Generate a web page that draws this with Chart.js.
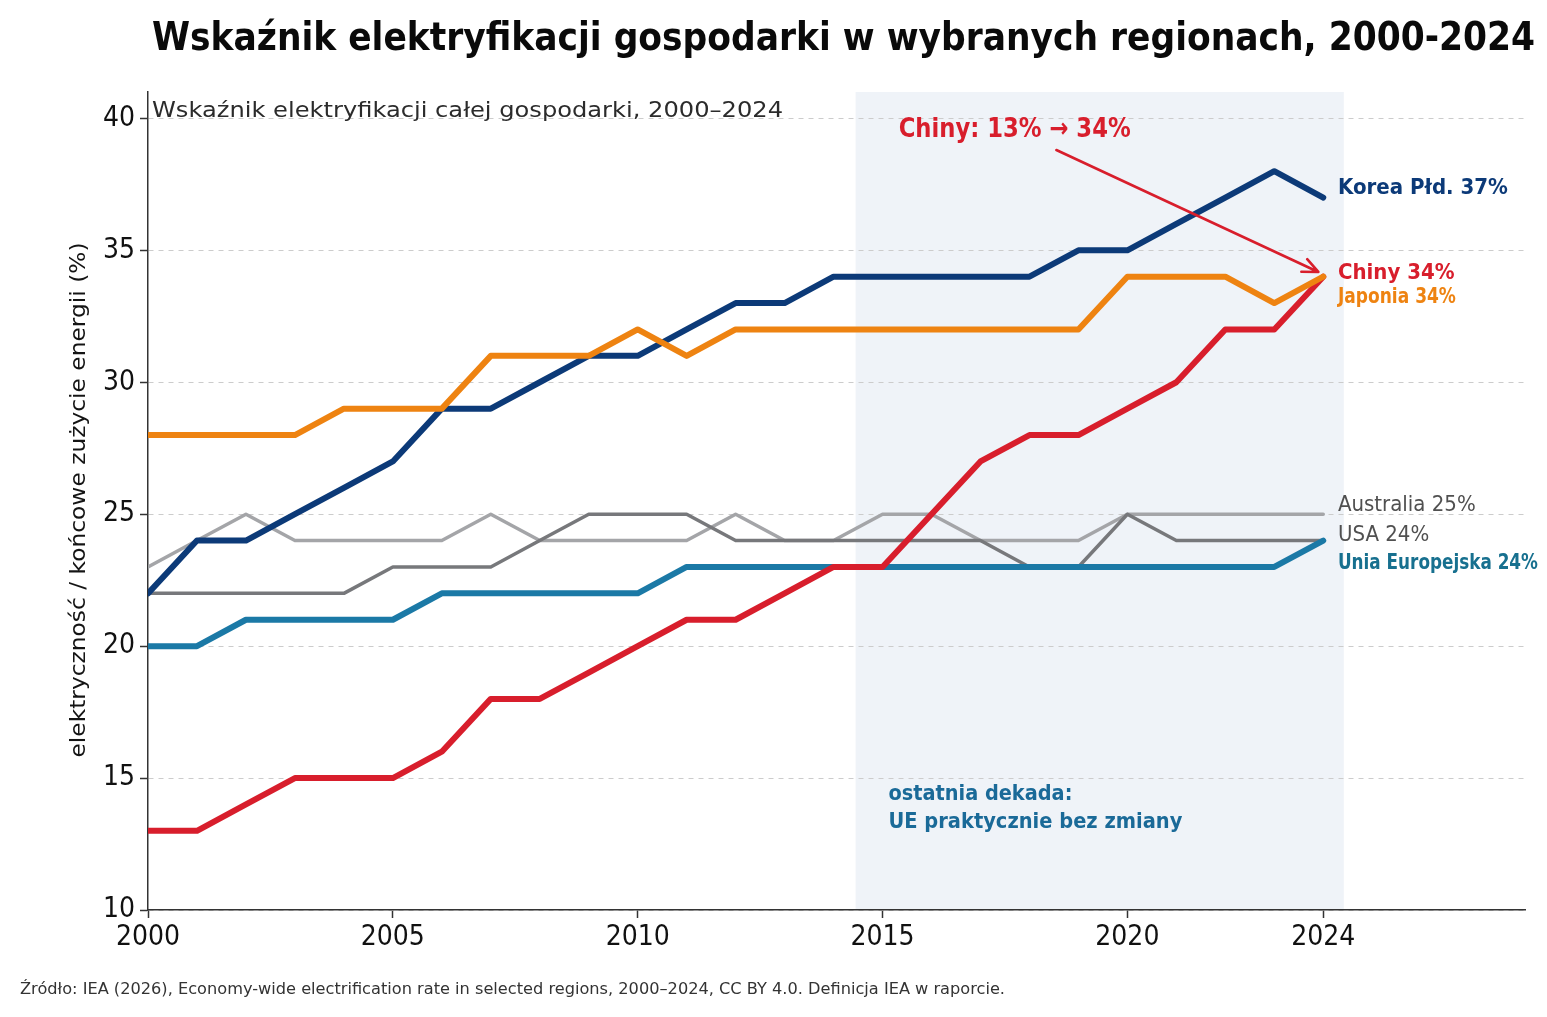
<!DOCTYPE html>
<html lang="pl">
<head>
<meta charset="utf-8">
<title>Wskaźnik elektryfikacji gospodarki</title>
<script src="https://cdn.jsdelivr.net/npm/chart.js@4.4.1/dist/chart.umd.min.js"></script>
<style>
  html, body { margin: 0; padding: 0; background: #ffffff; }
  #wrap { width: 1547px; height: 1017px; }
  canvas { display: block; background: #ffffff; }
</style>
</head>
<body>
<div id="wrap"><canvas id="chart" width="1547" height="1017"></canvas></div>
<script>
// Data
const years = [2000, 2001, 2002, 2003, 2004, 2005, 2006, 2007, 2008, 2009, 2010, 2011, 2012,
               2013, 2014, 2015, 2016, 2017, 2018, 2019, 2020, 2021, 2022, 2023, 2024];
const korea     = [22, 24, 24, 25, 26, 27, 29, 29, 30, 31, 31, 32, 33, 33, 34, 34, 34, 34, 34, 35, 35, 36, 37, 38, 37];
const japan     = [28, 28, 28, 28, 29, 29, 29, 31, 31, 31, 32, 31, 32, 32, 32, 32, 32, 32, 32, 32, 34, 34, 34, 33, 34];
const china     = [13, 13, 14, 15, 15, 15, 16, 18, 18, 19, 20, 21, 21, 22, 23, 23, 25, 27, 28, 28, 29, 30, 32, 32, 34];
const eu        = [20, 20, 21, 21, 21, 21, 22, 22, 22, 22, 22, 23, 23, 23, 23, 23, 23, 23, 23, 23, 23, 23, 23, 23, 24];
const australia = [23, 24, 25, 24, 24, 24, 24, 25, 24, 24, 24, 24, 25, 24, 24, 25, 25, 24, 24, 24, 25, 25, 25, 25, 25];
const usa       = [22, 22, 22, 22, 22, 23, 23, 23, 24, 25, 25, 25, 24, 24, 24, 24, 24, 24, 23, 23, 25, 24, 24, 24, 24];

const xTicks = [2000, 2005, 2010, 2015, 2020, 2024];
const yTicks = [10, 15, 20, 25, 30, 35, 40];
const endLabels = ['Korea Płd. 37%', 'Chiny 34%', 'Japonia 34%', 'Australia 25%', 'USA 24%', 'Unia Europejska 24%'];

const colors = {
  korea: '#0c3a78',
  japan: '#ee8311',
  china: '#d81e2c',
  eu: '#1b79a6',
  australia: '#a4a5a8',
  usa: '#77787b'
};

function points(values) {
  return years.map((y, i) => ({ x: y, y: values[i] }));
}

function series(label, values, color, width) {
  return {
    label: label,
    data: points(values),
    borderColor: color,
    borderWidth: width,
    pointRadius: 0,
    pointHoverRadius: 0,
    fill: false,
    tension: 0,
    borderJoinStyle: 'round',
    borderCapStyle: 'round',
    clip: { left: 0, top: 10, right: 30, bottom: 0 }
  };
}

// draws text, squeezed/stretched to a target width when one is given
function fitText(ctx, text, x, y, font, width, color, rotate) {
  ctx.save();
  ctx.font = font;
  ctx.fillStyle = color;
  ctx.textBaseline = 'middle';
  ctx.textAlign = rotate ? 'center' : 'left';
  let sx = 1;
  if (width) sx = Math.min(1.15, Math.max(0.85, width / ctx.measureText(text).width));
  ctx.translate(x, y);
  if (rotate) ctx.rotate(-Math.PI / 2);
  ctx.scale(sx, 1);
  ctx.fillText(text, 0, 0);
  ctx.restore();
}

const decorPlugin = {
  id: 'decor',
  beforeDraw(chart) {
    const { ctx, chartArea, scales } = chart;
    const x0 = scales.x.getPixelForValue(2014.45);
    const x1 = scales.x.getPixelForValue(2024.42);
    ctx.save();
    ctx.fillStyle = '#eff3f8';
    ctx.fillRect(x0, chartArea.top, x1 - x0, chartArea.bottom - chartArea.top);
    ctx.restore();
  },
  afterDatasetsDraw(chart) {
    const { ctx, scales } = chart;
    const x = scales.x, y = scales.y;

    // arrow for China
    const ax0 = x.getPixelForValue(2018.55), ay0 = y.getPixelForValue(38.8);
    const ax1 = x.getPixelForValue(2023.9), ay1 = y.getPixelForValue(34.18);
    const ang = Math.atan2(ay1 - ay0, ax1 - ax0);
    ctx.save();
    ctx.strokeStyle = colors.china;
    ctx.lineWidth = 2.6;
    ctx.lineCap = 'round';
    ctx.lineJoin = 'round';
    ctx.beginPath();
    ctx.moveTo(ax0, ay0);
    ctx.lineTo(ax1, ay1);
    ctx.moveTo(ax1 - 17 * Math.cos(ang - 0.42), ay1 - 17 * Math.sin(ang - 0.42));
    ctx.lineTo(ax1, ay1);
    ctx.lineTo(ax1 - 17 * Math.cos(ang + 0.42), ay1 - 17 * Math.sin(ang + 0.42));
    ctx.stroke();
    ctx.restore();
  },
  afterDraw(chart) {
    const { ctx, scales } = chart;
    const x = scales.x, y = scales.y;

    fitText(ctx, 'Wskaźnik elektryfikacji gospodarki w wybranych regionach, 2000-2024',
      152, 40, 'bold 39px "DejaVu Sans"', 1383, '#0a0a0a');
    fitText(ctx, 'Wskaźnik elektryfikacji całej gospodarki, 2000–2024',
      152, 111, '22px "DejaVu Sans"', 631, '#2b2b2b');
    fitText(ctx, 'elektryczność / końcowe zużycie energii (%)',
      80, 500, '21px "DejaVu Sans"', 515, '#141414', true);
    fitText(ctx, 'Źródło: IEA (2026), Economy-wide electrification rate in selected regions, 2000–2024, CC BY 4.0. Definicja IEA w raporcie.',
      20, 990, '15px "DejaVu Sans"', 985, '#333333');

    fitText(ctx, 'Chiny: 13% → 34%', x.getPixelForValue(2015.33), y.getPixelForValue(39.55),
      'bold 27px "DejaVu Sans Condensed"', 232, colors.china);
    fitText(ctx, 'ostatnia dekada:', x.getPixelForValue(2015.12), y.getPixelForValue(14.36),
      'bold 21px "DejaVu Sans"', 184, '#1a6a98');
    fitText(ctx, 'UE praktycznie bez zmiany', x.getPixelForValue(2015.12), y.getPixelForValue(13.33),
      'bold 21px "DejaVu Sans"', 294, '#1a6a98');

    const lx = x.getPixelForValue(2024.3);
    fitText(ctx, endLabels[0], lx, y.getPixelForValue(37.35), 'bold 22px "DejaVu Sans Condensed"', 170, colors.korea);
    fitText(ctx, endLabels[1], lx, y.getPixelForValue(34.13), 'bold 22px "DejaVu Sans Condensed"', null, colors.china);
    fitText(ctx, endLabels[2], lx, y.getPixelForValue(33.2), 'bold 21px "DejaVu Sans Condensed"', 118, colors.japan);
    fitText(ctx, endLabels[3], lx, y.getPixelForValue(25.34), '22px "DejaVu Sans Condensed"', null, '#505050');
    fitText(ctx, endLabels[4], lx, y.getPixelForValue(24.2), '22px "DejaVu Sans Condensed"', null, '#505050');
    fitText(ctx, endLabels[5], lx, y.getPixelForValue(23.14), 'bold 21px "DejaVu Sans Condensed"', 200, '#17708f');
  }
};

const ctx = document.getElementById('chart').getContext('2d');
new Chart(ctx, {
  type: 'line',
  data: {
    datasets: [
      series('Japonia', japan, colors.japan, 6),
      series('Korea Płd.', korea, colors.korea, 6),
      series('Chiny', china, colors.china, 6),
      series('Unia Europejska', eu, colors.eu, 6),
      series('USA', usa, colors.usa, 3.5),
      series('Australia', australia, colors.australia, 3.5)
    ]
  },
  options: {
    responsive: false,
    animation: false,
    devicePixelRatio: 1,
    layout: { padding: { top: 92, left: 0, right: 22, bottom: 57 } },
    plugins: {
      legend: { display: false },
      tooltip: { enabled: false },
      title: { display: false }
    },
    scales: {
      x: {
        type: 'linear',
        min: 2000,
        max: 2028.12,
        afterBuildTicks: (scale) => { scale.ticks = xTicks.map(v => ({ value: v })); },
        afterFit: (scale) => { scale.height = 50; },
        ticks: {
          autoSkip: false,
          maxRotation: 0,
          padding: 3,
          color: '#111111',
          font: { family: '"DejaVu Sans Condensed"', size: 28 },
          callback: (v) => String(v)
        },
        grid: {
          drawOnChartArea: false,
          drawTicks: true,
          tickLength: 8,
          tickColor: '#333333',
          tickWidth: 1.5
        },
        border: { display: true, color: '#333333', width: 1.5 }
      },
      y: {
        type: 'linear',
        min: 10,
        max: 41,
        afterBuildTicks: (scale) => { scale.ticks = yTicks.map(v => ({ value: v })); },
        afterFit: (scale) => { scale.width = 148; },
        ticks: {
          padding: 5,
          color: '#111111',
          font: { family: '"DejaVu Sans Condensed"', size: 28 }
        },
        grid: {
          color: '#cccccc',
          lineWidth: 1,
          drawTicks: true,
          tickLength: 8,
          tickColor: '#333333',
          tickWidth: 1.5,
          tickBorderDash: []
        },
        border: { display: true, color: '#333333', width: 1.5, dash: [5, 5] }
      }
    }
  },
  plugins: [decorPlugin]
});
</script>
</body>
</html>
